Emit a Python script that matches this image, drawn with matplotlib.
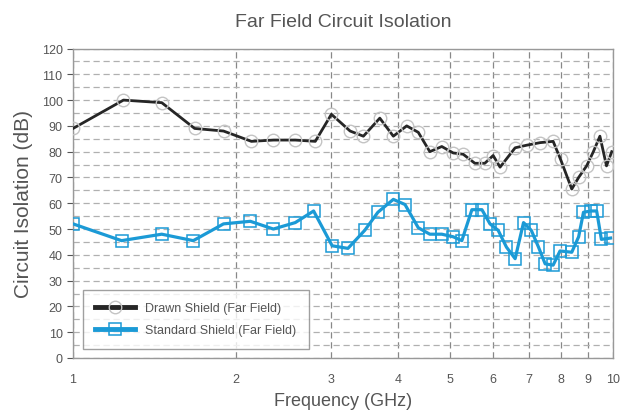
import numpy as np
import matplotlib.pyplot as plt
from matplotlib.ticker import FixedLocator, NullFormatter, MultipleLocator

plt.rcParams['font.family'] = ['Liberation Sans', 'DejaVu Sans']

# --- dados ---
freq_drawn = [1.0, 1.24, 1.46, 1.68, 1.90, 2.14, 2.35, 2.58, 2.81, 3.01, 3.26, 3.45,
              3.70, 3.92, 4.15, 4.36, 4.58, 4.82, 5.06, 5.28, 5.55, 5.79, 6.0, 6.18,
              6.59, 6.92, 7.33, 7.75, 8.0, 8.39, 8.64, 8.94, 9.2, 9.46, 9.73, 9.95]
iso_drawn = [89, 100, 99, 89, 88, 84, 84.5, 84.5, 84, 94.5, 88, 86,
             93, 86, 90, 87.5, 80, 82, 79.5, 79, 75.5, 75.5, 78.5, 74,
             81.5, 82.5, 83.5, 84, 77, 65.5, 70, 74.5, 80, 86, 74.5, 80]

freq_std = [1.0, 1.23, 1.46, 1.67, 1.90, 2.13, 2.35, 2.58, 2.79, 3.02, 3.23, 3.47,
            3.67, 3.92, 4.12, 4.36, 4.58, 4.82, 5.06, 5.25, 5.48, 5.72, 5.92, 6.13,
            6.35, 6.59, 6.83, 7.06, 7.28, 7.49, 7.75, 7.98, 8.39, 8.64, 8.82, 9.10,
            9.33, 9.52, 9.90]
iso_std = [52, 45.5, 48, 45.5, 52, 53, 50, 52.5, 57, 43.5, 42.5, 49.5,
           56.5, 61.5, 59.5, 50.5, 48, 48, 47, 45.5, 57.5, 57.5, 52, 49.5,
           43, 38.5, 52.5, 49.5, 43, 36.5, 36, 41.5, 41, 47, 56.5, 57,
           57, 46, 46.5]

xticks = [1, 2, 3, 4, 5, 6, 7, 8, 9, 10]
yticks = list(range(0, 121, 10))

cinza = '#555555'
azul = '#1b9ad6'

fig = plt.figure(figsize=(6.22, 4.14), dpi=100)
ax = fig.add_axes([0.1174, 0.1329, 0.868, 0.7475])

ax.plot(freq_drawn, iso_drawn, color='#262626', lw=2, marker='o', ms=9,
        mfc='none', mec='#c4c4c4', mew=1.0, label='Drawn Shield (Far Field)', zorder=3)
ax.plot(freq_std, iso_std, color=azul, lw=2.3, marker='s', ms=8.5,
        mfc='none', mec=azul, mew=1.1, label='Standard Shield (Far Field)', zorder=4)

ax.set_xscale('log')
ax.set_xlim(1, 10)
ax.set_ylim(0, 120)
ax.xaxis.set_major_locator(FixedLocator(xticks))
ax.xaxis.set_minor_formatter(NullFormatter())
ax.set_xticks(xticks)
ax.set_xticklabels([str(t) for t in xticks])
ax.set_yticks(yticks)
ax.yaxis.set_minor_locator(MultipleLocator(5))

ax.grid(True, which='major', axis='x', ls=(0, (5, 3)), color='#888888', lw=0.9)
ax.grid(True, which='both', axis='y', ls=(0, (5, 3)), color='#b0b0b0', lw=0.9)
ax.set_axisbelow(True)

ax.tick_params(axis='both', which='major', labelsize=9, colors=cinza, length=4)
ax.tick_params(axis='x', length=0, pad=11)
ax.tick_params(axis='y', which='minor', length=0)
for s in ax.spines.values():
    s.set_color('#999999')
    s.set_linewidth(1)

ax.set_title('Far Field Circuit Isolation', fontsize=14, color=cinza, pad=16)
ax.set_xlabel('Frequency (GHz)', fontsize=13, color=cinza, labelpad=5)
ax.set_ylabel('Circuit Isolation (dB)', fontsize=15, color=cinza, labelpad=6)

leg = ax.legend(loc='lower left', bbox_to_anchor=(0.006, 0.01), fontsize=9,
                frameon=True, fancybox=False, edgecolor='#888888',
                handlelength=3.2, borderpad=1.0, labelspacing=0.8)
for t in leg.get_texts():
    t.set_color(cinza)
for h in leg.get_lines():
    h.set_linewidth(3.5)

plt.savefig('out.png', dpi=100)
